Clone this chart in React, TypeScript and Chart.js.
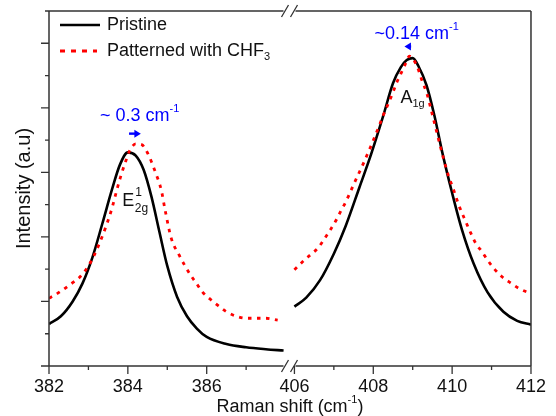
import React, { useEffect, useRef } from 'react';
import { Chart, registerables } from 'chart.js';

Chart.register(...registerables);

// ---------- data (Raman shift in cm^-1, intensity in a.u.) ----------
const pristineLeftX = [382.0, 382.3, 382.6, 382.85, 383.1, 383.35, 383.6, 383.8, 384.0, 384.2, 384.4, 384.6, 384.8, 385.0, 385.25, 385.5, 385.75, 386.0, 386.5, 387.0, 387.5, 387.95];
const pristineLeftY = [0.65, 0.77, 1.0, 1.28, 1.68, 2.2, 2.74, 3.12, 3.31, 3.26, 3.04, 2.62, 2.08, 1.55, 1.07, 0.77, 0.58, 0.45, 0.34, 0.29, 0.26, 0.24];

const patternedLeftX = [382.0, 382.15, 382.35, 382.6, 382.8, 383.0, 383.15, 383.3, 383.45, 383.6, 383.7, 383.8, 383.95, 384.05, 384.2, 384.35, 384.5, 384.7, 384.85, 384.95, 385.1, 385.3, 385.45, 385.6, 385.75, 385.9, 386.1, 386.3, 386.5, 386.75, 387.0, 387.5, 387.8];
const patternedLeftY = [1.05, 1.1, 1.18, 1.29, 1.39, 1.55, 1.72, 1.93, 2.17, 2.45, 2.68, 2.9, 3.18, 3.34, 3.44, 3.43, 3.3, 3.0, 2.72, 2.4, 1.98, 1.72, 1.55, 1.4, 1.27, 1.14, 1.03, 0.93, 0.84, 0.77, 0.74, 0.74, 0.71];

const pristineRightX = [406.0, 406.3, 406.65, 407.0, 407.3, 407.65, 407.95, 408.25, 408.5, 408.7, 408.85, 409.0, 409.15, 409.35, 409.55, 409.75, 410.0, 410.25, 410.55, 410.9, 411.3, 411.65, 412.0];
const pristineRightY = [0.92, 1.06, 1.33, 1.74, 2.17, 2.77, 3.29, 3.87, 4.38, 4.63, 4.74, 4.77, 4.64, 4.35, 3.88, 3.31, 2.68, 2.11, 1.58, 1.14, 0.84, 0.7, 0.64];

const patternedRightX = [406.0, 406.2, 406.4, 406.6, 406.75, 406.9, 407.05, 407.15, 407.3, 407.4, 407.5, 407.6, 407.75, 407.85, 407.95, 408.05, 408.15, 408.25, 408.35, 408.5, 408.6, 408.7, 408.8, 408.92, 409.1, 409.22, 409.37, 409.5, 409.64, 409.77, 409.9, 410.02, 410.17, 410.3, 410.48, 410.6, 410.77, 410.9, 411.05, 411.25, 411.5, 411.7, 412.0];
const patternedRightY = [1.49, 1.61, 1.72, 1.83, 1.96, 2.1, 2.25, 2.37, 2.54, 2.67, 2.81, 2.94, 3.14, 3.28, 3.42, 3.57, 3.72, 3.88, 4.02, 4.24, 4.4, 4.53, 4.66, 4.8, 4.66, 4.45, 4.2, 3.89, 3.55, 3.24, 2.96, 2.76, 2.49, 2.3, 2.05, 1.9, 1.76, 1.64, 1.52, 1.39, 1.28, 1.2, 1.12];

// ---------- axes ----------
const xLeftRange = [382, 388.1];
const xRightRange = [405.875, 412];
const xTicksLeft = [382, 384, 386];
const xTicksRight = [406, 408, 410, 412];
const xMinorLeft = [383, 385, 387];
const xMinorRight = [407, 409, 411];
const yRange = [0, 5.5];
const yMajor = [0, 1, 2, 3, 4, 5];
const yMinor = [0.5, 1.5, 2.5, 3.5, 4.5, 5.5];

// ---------- texts ----------
const seriesNames = ['Pristine', 'Patterned with CHF'];
const seriesSub = ['', '3'];
const xTitle = 'Raman shift (cm';
const yTitle = 'Intensity (a.u)';
const shiftE = '~ 0.3 cm';
const shiftA = '~0.14 cm';
// annotation anchors in data units
const shiftEText = [384.3, 3.87];
const shiftEArrow = [384.03, 384.33, 3.6];
const shiftAText = [409.1, 5.15];
const shiftAArrow = [408.96, 408.79, 4.95];
const labelE = [383.86, 2.55];
const labelA = [408.69, 4.15];

const FONT = "'Liberation Sans', Arial, Helvetica, sans-serif";
const BLUE = '#0000ff';
const INK = '#111';

type Part = { t: string; s?: 'sup' | 'sub' };

function richWidth(ctx: CanvasRenderingContext2D, parts: Part[], size: number) {
  let w = 0;
  for (const p of parts) {
    ctx.font = `${p.s ? Math.round(size * 0.62) : size}px ${FONT}`;
    w += ctx.measureText(p.t).width;
  }
  return w;
}

function drawRich(ctx: CanvasRenderingContext2D, parts: Part[], x: number, y: number, size: number, align: 'left' | 'center', color: string) {
  const w = richWidth(ctx, parts, size);
  let cx = align === 'center' ? x - w / 2 : x;
  ctx.fillStyle = color;
  ctx.textBaseline = 'middle';
  ctx.textAlign = 'left';
  for (const p of parts) {
    const sz = p.s ? Math.round(size * 0.62) : size;
    ctx.font = `${sz}px ${FONT}`;
    const dy = p.s === 'sup' ? -size * 0.38 : p.s === 'sub' ? size * 0.33 : 0;
    ctx.fillText(p.t, cx, y + dy);
    cx += ctx.measureText(p.t).width;
  }
}

const decorPlugin = {
  id: 'decor',
  afterDraw(chart: any) {
    const ctx: CanvasRenderingContext2D = chart.ctx;
    const { left, right, top, bottom } = chart.chartArea;
    const xL = chart.scales.xL;
    const xR = chart.scales.xR;
    const y = chart.scales.y;
    const bx = xL.right;
    ctx.save();
    // frame with breaks
    ctx.strokeStyle = '#333';
    ctx.lineWidth = 1.5;
    ctx.beginPath();
    ctx.moveTo(left, top);
    ctx.lineTo(left, bottom);
    ctx.moveTo(right, top);
    ctx.lineTo(right, bottom);
    for (const yy of [top, bottom]) {
      ctx.moveTo(left, yy);
      ctx.lineTo(bx - 6, yy);
      ctx.moveTo(bx + 6, yy);
      ctx.lineTo(right, yy);
    }
    ctx.stroke();
    ctx.lineWidth = 1.3;
    ctx.beginPath();
    for (const yy of [top, bottom]) {
      for (const off of [-4.5, 4.5]) {
        ctx.moveTo(bx + off - 3.5, yy + 6);
        ctx.lineTo(bx + off + 3.5, yy - 6);
      }
    }
    ctx.stroke();
    // ticks
    ctx.lineWidth = 1.3;
    ctx.beginPath();
    for (const v of yMajor) {
      const p = y.getPixelForValue(v);
      ctx.moveTo(left - 8, p);
      ctx.lineTo(left, p);
    }
    for (const v of yMinor) {
      const p = y.getPixelForValue(v);
      ctx.moveTo(left - 4, p);
      ctx.lineTo(left, p);
    }
    const xt = (sc: any, arr: number[], len: number) => {
      for (const v of arr) {
        const p = sc.getPixelForValue(v);
        ctx.moveTo(p, bottom);
        ctx.lineTo(p, bottom + len);
      }
    };
    xt(xL, xTicksLeft, 8);
    xt(xR, xTicksRight, 8);
    xt(xL, xMinorLeft, 4);
    xt(xR, xMinorRight, 4);
    ctx.stroke();

    // x title
    drawRich(ctx, [{ t: xTitle }, { t: '-1', s: 'sup' }, { t: ')' }], (left + right) / 2, 407, 18, 'center', INK);

    // legend
    ctx.lineWidth = 2.6;
    ctx.strokeStyle = '#000';
    ctx.beginPath();
    ctx.moveTo(60, 25);
    ctx.lineTo(100, 25);
    ctx.stroke();
    ctx.strokeStyle = '#ff0000';
    ctx.lineWidth = 3;
    ctx.setLineDash([5, 6]);
    ctx.beginPath();
    ctx.moveTo(60, 51);
    ctx.lineTo(97, 51);
    ctx.stroke();
    ctx.setLineDash([]);
    drawRich(ctx, [{ t: seriesNames[0] }], 107, 25, 18, 'left', INK);
    drawRich(ctx, [{ t: seriesNames[1] }, { t: seriesSub[1], s: 'sub' }], 107, 51, 18, 'left', INK);

    // shift annotations
    drawRich(ctx, [{ t: shiftE }, { t: '-1', s: 'sup' }], xL.getPixelForValue(shiftEText[0]), y.getPixelForValue(shiftEText[1]), 18, 'center', BLUE);
    drawRich(ctx, [{ t: shiftA }, { t: '-1', s: 'sup' }], xR.getPixelForValue(shiftAText[0]), y.getPixelForValue(shiftAText[1]), 18, 'center', BLUE);
    const arrow = (x0: number, x1: number, yy: number) => {
      const dir = Math.sign(x1 - x0);
      ctx.strokeStyle = BLUE;
      ctx.fillStyle = BLUE;
      ctx.lineWidth = 2.4;
      ctx.beginPath();
      ctx.moveTo(x0, yy);
      ctx.lineTo(x1 - dir * 4, yy);
      ctx.stroke();
      ctx.beginPath();
      ctx.moveTo(x1, yy);
      ctx.lineTo(x1 - dir * 6.5, yy - 4);
      ctx.lineTo(x1 - dir * 6.5, yy + 4);
      ctx.closePath();
      ctx.fill();
    };
    arrow(xL.getPixelForValue(shiftEArrow[0]), xL.getPixelForValue(shiftEArrow[1]), y.getPixelForValue(shiftEArrow[2]));
    arrow(xR.getPixelForValue(shiftAArrow[0]), xR.getPixelForValue(shiftAArrow[1]), y.getPixelForValue(shiftAArrow[2]));

    // mode labels
    drawRich(ctx, [{ t: 'E' }], xL.getPixelForValue(labelE[0]), y.getPixelForValue(labelE[1]), 18, 'left', INK);
    {
      const ex = xL.getPixelForValue(labelE[0]);
      ctx.font = `18px ${FONT}`;
      const w = ctx.measureText('E').width;
      const ey = y.getPixelForValue(labelE[1]);
      ctx.font = `12px ${FONT}`;
      ctx.fillText('1', ex + w + 1, ey - 9);
      ctx.fillText('2g', ex + w + 0.5, ey + 7);
    }
    drawRich(ctx, [{ t: 'A' }, { t: '1g', s: 'sub' }], xR.getPixelForValue(labelA[0]), y.getPixelForValue(labelA[1]), 18, 'left', INK);
    ctx.restore();
  },
};

const toPts = (xs: number[], ys: number[]) => xs.map((x, i) => ({ x, y: ys[i] }));

export default function App() {
  const ref = useRef<HTMLCanvasElement | null>(null);
  useEffect(() => {
    if (!ref.current) return;
    const black = { borderColor: '#000', borderWidth: 2.6, pointRadius: 0, cubicInterpolationMode: 'monotone' as const, order: 1, yAxisID: 'y' };
    const red = { borderColor: '#ff0000', borderWidth: 2.8, borderDash: [3.5, 5.5], pointRadius: 0, cubicInterpolationMode: 'monotone' as const, order: 0, yAxisID: 'y' };
    const tickFont = { family: FONT, size: 18 };
    const chart = new Chart(ref.current, {
      type: 'line',
      data: {
        datasets: [
          { label: seriesNames[0], data: toPts(pristineLeftX, pristineLeftY), xAxisID: 'xL', ...black },
          { label: seriesNames[0], data: toPts(pristineRightX, pristineRightY), xAxisID: 'xR', ...black },
          { label: seriesNames[1], data: toPts(patternedLeftX, patternedLeftY), xAxisID: 'xL', ...red },
          { label: seriesNames[1], data: toPts(patternedRightX, patternedRightY), xAxisID: 'xR', ...red },
        ] as any,
      },
      options: {
        animation: false,
        responsive: false,
        layout: { padding: { top: 11, right: 21, left: 0, bottom: 0 } },
        plugins: { legend: { display: false }, tooltip: { enabled: false } },
        scales: {
          xL: {
            type: 'linear', position: 'bottom', stack: 'x', stackWeight: xLeftRange[1] - xLeftRange[0],
            min: xLeftRange[0], max: xLeftRange[1],
            afterBuildTicks: (s: any) => { s.ticks = xTicksLeft.map((v) => ({ value: v })); },
            ticks: { font: tickFont, color: INK, padding: 10, maxRotation: 0, autoSkip: false },
            grid: { display: false, drawTicks: false }, border: { display: false },
            afterFit: (s: any) => { s.height = 50; },
          },
          xR: {
            type: 'linear', position: 'bottom', stack: 'x', stackWeight: xRightRange[1] - xRightRange[0],
            min: xRightRange[0], max: xRightRange[1],
            afterBuildTicks: (s: any) => { s.ticks = xTicksRight.map((v) => ({ value: v })); },
            ticks: { font: tickFont, color: INK, padding: 10, maxRotation: 0, autoSkip: false },
            grid: { display: false, drawTicks: false }, border: { display: false },
            afterFit: (s: any) => { s.height = 50; },
          },
          y: {
            type: 'linear', position: 'left', min: yRange[0], max: yRange[1],
            ticks: { display: false }, grid: { display: false, drawTicks: false }, border: { display: false },
            title: { display: true, text: yTitle, font: { family: FONT, size: 20 }, color: INK, padding: { top: 12, bottom: 0 } },
            afterFit: (s: any) => { s.width = 49; },
          },
        } as any,
      },
      plugins: [decorPlugin],
    });
    return () => chart.destroy();
  }, []);
  return (
    <div style={{ position: 'fixed', left: 0, top: 0, width: 556, height: 416, background: '#fff' }}>
      <canvas ref={ref} width={556} height={416} style={{ display: 'block' }} />
    </div>
  );
}
